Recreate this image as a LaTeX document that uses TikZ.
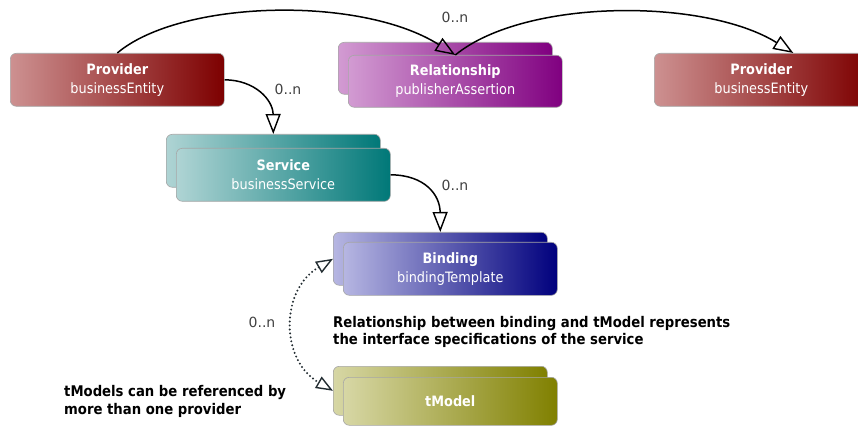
\documentclass[tikz,border=0pt]{standalone}
\usepackage{fontspec}
\setmainfont{DejaVu Sans Condensed}
\newfontfamily\multfont{DejaVu Sans}
\usetikzlibrary{arrows.meta}

\definecolor{provL}{RGB}{205,145,145}
\definecolor{provM}{RGB}{158,50,50}
\definecolor{provR}{RGB}{125,0,0}
\definecolor{relL}{RGB}{210,155,210}
\definecolor{relM}{RGB}{160,55,160}
\definecolor{relR}{RGB}{128,0,128}
\definecolor{svcL}{RGB}{175,212,212}
\definecolor{svcM}{RGB}{55,148,148}
\definecolor{svcR}{RGB}{0,120,120}
\definecolor{bndL}{RGB}{182,182,226}
\definecolor{bndM}{RGB}{65,65,162}
\definecolor{bndR}{RGB}{0,0,125}
\definecolor{tmL}{RGB}{215,215,165}
\definecolor{tmM}{RGB}{165,165,55}
\definecolor{tmR}{RGB}{128,128,0}
\definecolor{linkgray}{RGB}{35,45,50}

\tikzset{
  card/.style={rounded corners=6pt, draw=black!35, line width=0.6pt,
    minimum width=214pt, minimum height=53pt, anchor=north west,
    inner sep=0pt, align=center, text=white, font=\fontsize{14.3}{19}\selectfont},
  provcard/.style={card, left color=provL, middle color=provM, right color=provR},
  relcard/.style={card, left color=relL, middle color=relM, right color=relR},
  svccard/.style={card, left color=svcL, middle color=svcM, right color=svcR},
  bndcard/.style={card, left color=bndL, middle color=bndM, right color=bndR},
  tmcard/.style={card, left color=tmL, middle color=tmM, right color=tmR},
  link/.style={line width=1.5pt, draw=black, -{Triangle[open, length=20pt, width=15pt, line width=1.4pt]}},
  dotlink/.style={line width=2.2pt, draw=linkgray, line cap=round,
    dash pattern=on 0pt off 4pt,
    {Triangle[open, length=17pt, width=13pt, line width=1.4pt]}-{Triangle[open, length=17pt, width=13pt, line width=1.4pt]}},
  mult/.style={text=black!75, font=\multfont\fontsize{14}{16}\selectfont, inner sep=0pt},
  note/.style={text=black, align=left, anchor=west, inner sep=0pt,
    font=\bfseries\fontsize{14.7}{17.5}\selectfont}
}

\begin{document}
\begin{tikzpicture}[x=1pt, y=-1pt]
  \clip (0,0) rectangle (858,427);

  % top row: providers and the publisher assertion between them
  \node[provcard] (p1) at (10,53) {\textbf{Provider}\\businessEntity};
  \node[relcard, minimum height=52pt] (relback) at (338,42) {};
  \node[relcard, minimum height=52pt] (rel) at (348,55) {\textbf{Relationship}\\publisherAssertion};
  \node[provcard] (p2) at (654,53) {\textbf{Provider}\\businessEntity};

  % service
  \node[svccard] (svcback) at (166,134) {};
  \node[svccard] (svc) at (176,148) {\textbf{Service}\\businessService};

  % binding
  \node[bndcard] (bndback) at (333,232) {};
  \node[bndcard] (bnd) at (343,242) {\textbf{Binding}\\bindingTemplate};

  % tModel
  \node[tmcard, minimum height=49pt] (tmback) at (333,366) {};
  \node[tmcard, minimum height=48pt] (tm) at (343,377) {\textbf{tModel}};

  % containment and assertion links
  \draw[link] (p1.north) .. controls (180,0) and (360,-5) .. (rel.north);
  \draw[link] (rel.north) .. controls (525,-2) and (705,-2) .. ([xshift=32pt]p2.north);
  \draw[link] (p1.east) .. controls (255,80) and (273,100) .. (svcback.north);
  \draw[link] (svc.east) .. controls (425,175) and (440,195) .. (bndback.north);
  \draw[dotlink] (bndback.west) .. controls (280,290) and (280,360) .. (tmback.west);

  % multiplicities
  \node[mult] (m1) at (455,17) {0..n};
  \node[mult] (m2) at (288,89) {0..n};
  \node[mult] (m3) at (455,185) {0..n};
  \node[mult] (m4) at (262,322) {0..n};

  % notes
  \node[note] (n1) at (333,332) {Relationship between binding and tModel represents\\the interface specifications of the service};
  \node[note] (n2) at (64,401.5) {tModels can be referenced by\\more than one provider};
\end{tikzpicture}
\end{document}
